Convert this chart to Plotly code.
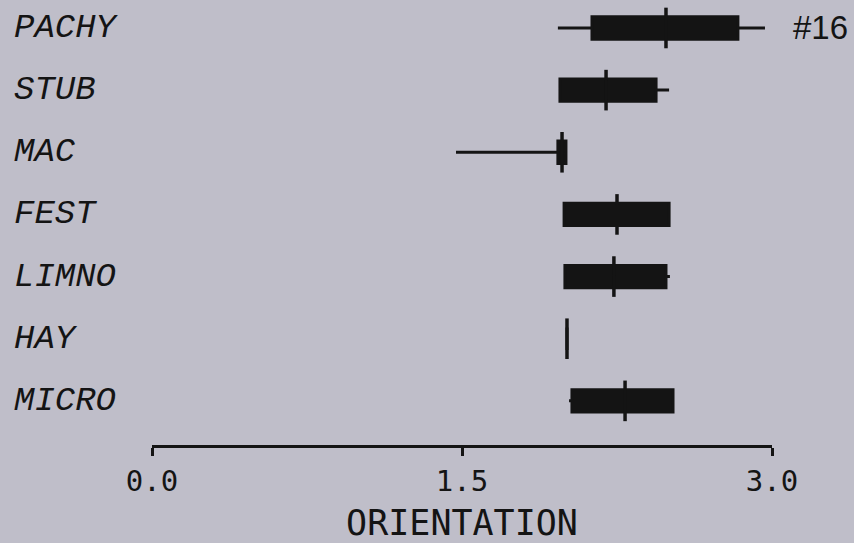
import plotly.graph_objects as go

categories = ["PACHY", "STUB", "MAC", "FEST", "LIMNO", "HAY", "MICRO"]
lower = [1.964, 1.974, 1.471, 1.994, 1.998, 2.008, 2.018]
q1 = [2.129, 1.974, 1.964, 1.994, 1.998, 2.008, 2.032]
median = [2.487, 2.197, 1.984, 2.250, 2.235, 2.008, 2.289]
q3 = [2.835, 2.439, 2.003, 2.502, 2.487, 2.008, 2.521]
upper = [2.966, 2.502, 2.003, 2.502, 2.506, 2.008, 2.521]
tick_vals = [0.0, 1.5, 3.0]
tick_text = ["0.0", "1.5", "3.0"]
note = "#16"

BG = "#bfbec9"
INK = "#141414"

fig = go.Figure()
fig.add_trace(go.Box(
    y=categories, q1=q1, median=median, q3=q3,
    lowerfence=lower, upperfence=upper,
    orientation="h", fillcolor=INK, line=dict(color=INK, width=3),
    whiskerwidth=0, width=0.36, boxpoints=False, showlegend=False,
    hoverinfo="skip",
))
fig.add_trace(go.Scatter(
    x=median, y=categories, mode="markers", cliponaxis=False,
    marker=dict(symbol="line-ns", size=29, line=dict(color=INK, width=3.5)),
    showlegend=False, hoverinfo="skip",
))

for c in categories:
    fig.add_annotation(
        x=-0.226, xref="paper", y=c, yref="y", text=c, showarrow=False,
        xanchor="left", yanchor="middle",
        font=dict(family="Liberation Mono", size=34, color=INK, style="italic"),
    )

fig.add_annotation(
    x=1.030, xref="paper", y=categories[0], yref="y", text=note, showarrow=False,
    xanchor="left", yanchor="middle",
    font=dict(family="Liberation Sans", size=33, color=INK),
)

fig.update_layout(
    width=854, height=543,
    margin=dict(l=152, r=82, t=0, b=98),
    paper_bgcolor=BG, plot_bgcolor=BG,
    xaxis=dict(
        range=[0, 3], tickvals=tick_vals, ticktext=tick_text,
        showline=True, linecolor=INK, linewidth=3,
        ticks="outside", ticklen=8, tickwidth=3, tickcolor=INK,
        showgrid=False, zeroline=False,
        tickfont=dict(family="DejaVu Sans Mono", size=29, color=INK),
        title=dict(text="ORIENTATION", standoff=14,
                   font=dict(family="DejaVu Sans Mono", size=35, color=INK)),
    ),
    yaxis=dict(
        categoryorder="array", categoryarray=categories,
        range=[6.71, -0.45], showticklabels=False, showgrid=False,
        zeroline=False, showline=False, ticks="",
    ),
)

fig.write_html(
    "out.html",
    config={"displayModeBar": False},
    post_script="document.body.style.margin='0';document.body.style.overflow='hidden';",
)
